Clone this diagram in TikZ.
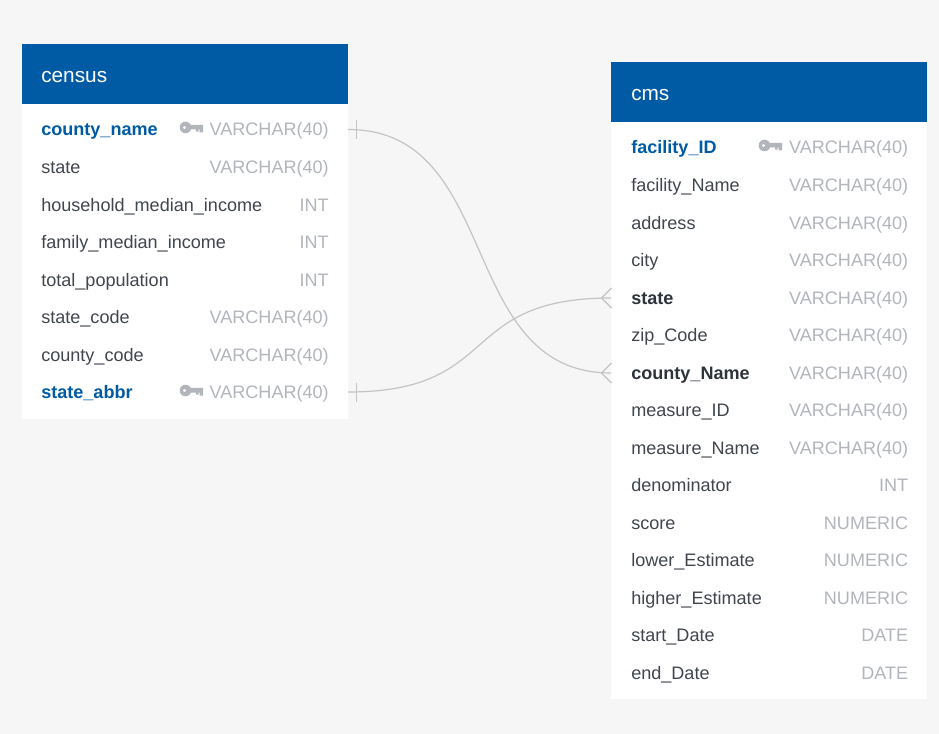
\documentclass[tikz,border=0pt]{standalone}
\usepackage{fontspec}
\setmainfont{Liberation Sans}
\definecolor{page}{HTML}{F6F6F6}
\definecolor{header}{HTML}{005BA4}
\definecolor{rowtext}{HTML}{41464E}
\definecolor{typetext}{HTML}{B2B6BC}
\definecolor{boldtext}{HTML}{2F343B}
\definecolor{linkline}{HTML}{C4C4C4}
\tikzstyle{title} = [anchor=base west, inner sep=0pt, text=white, font=\fontsize{15.6}{18}\selectfont]
\tikzstyle{field} = [anchor=base west, inner sep=0pt, text=rowtext, font=\fontsize{13.55}{16}\selectfont]
\tikzstyle{keyfield} = [field, text=header, font=\fontsize{13.55}{16}\selectfont\bfseries]
\tikzstyle{fkfield} = [field, text=boldtext, font=\fontsize{13.55}{16}\selectfont\bfseries]
\tikzstyle{type} = [anchor=base east, inner sep=0pt, text=typetext, font=\fontsize{13.55}{16}\selectfont]
\tikzstyle{link} = [draw=linkline, line width=0.9pt]
\tikzset{keyicon/.pic={
	\fill[typetext, even odd rule] (-5.5, 0) circle (5.8) (-6.5, 0) circle (1.8);
	\fill[typetext] (-2, -2.6) -- (12, -2.6) -- (12, 5) -- (8.5, 5) -- (8.5, 2) -- (7.5, 2) -- (7.5, 4.2) -- (5, 4.2) -- (5, 2) -- (-2, 2) -- cycle;
}}

\begin{document}
\begin{tikzpicture}[x=0.75pt, y=-0.75pt]
	\fill[page](0, 0) rectangle (939, 734);
	\useasboundingbox (0, 0) rectangle (939, 734);

	\fill[white](22, 104) rectangle (348, 419);
	\fill[header](22, 44) rectangle (348, 104);
	\fill[white](611, 122) rectangle (927, 699);
	\fill[header](611, 62) rectangle (927, 122);

	\node[title](census) at (41, 82.5){census};
	\node[keyfield](censuscountyname) at (41, 135.5){county\_name};
	\node[field](censusstate) at (41, 173.5){state};
	\node[field](censushousehold) at (41, 211.5){household\_median\_income};
	\node[field](censusfamily) at (41, 248.5){family\_median\_income};
	\node[field](censuspopulation) at (41, 286.5){total\_population};
	\node[field](censusstatecode) at (41, 323.5){state\_code};
	\node[field](censuscountycode) at (41, 361.5){county\_code};
	\node[keyfield](censusabbr) at (41, 398.5){state\_abbr};
	\node[type](censustype1) at (329, 135.5){VARCHAR(40)};
	\node[type](censustype2) at (329, 173.5){VARCHAR(40)};
	\node[type](censustype3) at (329, 211.5){INT};
	\node[type](censustype4) at (329, 248.5){INT};
	\node[type](censustype5) at (329, 286.5){INT};
	\node[type](censustype6) at (329, 323.5){VARCHAR(40)};
	\node[type](censustype7) at (329, 361.5){VARCHAR(40)};
	\node[type](censustype8) at (329, 398.5){VARCHAR(40)};

	\node[title](cms) at (631, 100.5){cms};
	\node[keyfield](cmsfacilityid) at (631, 153.5){facility\_ID};
	\node[field](cmsfacilityname) at (631, 191.5){facility\_Name};
	\node[field](cmsaddress) at (631, 229.5){address};
	\node[field](cmscity) at (631, 266.5){city};
	\node[fkfield](cmsstate) at (631, 304.5){state};
	\node[field](cmszip) at (631, 341.5){zip\_Code};
	\node[fkfield](cmscounty) at (631, 379.5){county\_Name};
	\node[field](cmsmeasureid) at (631, 416.5){measure\_ID};
	\node[field](cmsmeasurename) at (631, 454.5){measure\_Name};
	\node[field](cmsdenominator) at (631, 491.5){denominator};
	\node[field](cmsscore) at (631, 529.5){score};
	\node[field](cmslower) at (631, 566.5){lower\_Estimate};
	\node[field](cmshigher) at (631, 604.5){higher\_Estimate};
	\node[field](cmsstart) at (631, 641.5){start\_Date};
	\node[field](cmsend) at (631, 679.5){end\_Date};
	\node[type](cmstype1) at (908.5, 153.5){VARCHAR(40)};
	\node[type](cmstype2) at (908.5, 191.5){VARCHAR(40)};
	\node[type](cmstype3) at (908.5, 229.5){VARCHAR(40)};
	\node[type](cmstype4) at (908.5, 266.5){VARCHAR(40)};
	\node[type](cmstype5) at (908.5, 304.5){VARCHAR(40)};
	\node[type](cmstype6) at (908.5, 341.5){VARCHAR(40)};
	\node[type](cmstype7) at (908.5, 379.5){VARCHAR(40)};
	\node[type](cmstype8) at (908.5, 416.5){VARCHAR(40)};
	\node[type](cmstype9) at (908.5, 454.5){VARCHAR(40)};
	\node[type](cmstype10) at (908.5, 491.5){INT};
	\node[type](cmstype11) at (908.5, 529.5){NUMERIC};
	\node[type](cmstype12) at (908.5, 566.5){NUMERIC};
	\node[type](cmstype13) at (908.5, 604.5){NUMERIC};
	\node[type](cmstype14) at (908.5, 641.5){DATE};
	\node[type](cmstype15) at (908.5, 679.5){DATE};

	\pic at (191, 127.5){keyicon};
	\pic at (191, 390.5){keyicon};
	\pic at (770, 145.5){keyicon};

	\coordinate (linkcountyfrom) at (348, 129.5);
	\coordinate (linkcountyto) at (611, 373);
	\coordinate (linkstatefrom) at (348, 392);
	\coordinate (linkstateto) at (611, 298);

	\draw[link](linkcountyfrom) .. controls (503, 129.5) and (456, 373) .. (linkcountyto);
	\draw[link](linkstatefrom) .. controls (503, 392) and (456, 298) .. (linkstateto);
	\draw[link]([shift={(8.5, -9.5)}]linkcountyfrom) -- ([shift={(8.5, 9.5)}]linkcountyfrom);
	\draw[link]([shift={(8.5, -9.5)}]linkstatefrom) -- ([shift={(8.5, 9.5)}]linkstatefrom);
	\draw[link]([shift={(0.5, -10)}]linkcountyto) -- ([shift={(-9.5, 0)}]linkcountyto) -- ([shift={(0.5, 10)}]linkcountyto);
	\draw[link]([shift={(0.5, -10)}]linkstateto) -- ([shift={(-9.5, 0)}]linkstateto) -- ([shift={(0.5, 10)}]linkstateto);
\end{tikzpicture}
\end{document}
